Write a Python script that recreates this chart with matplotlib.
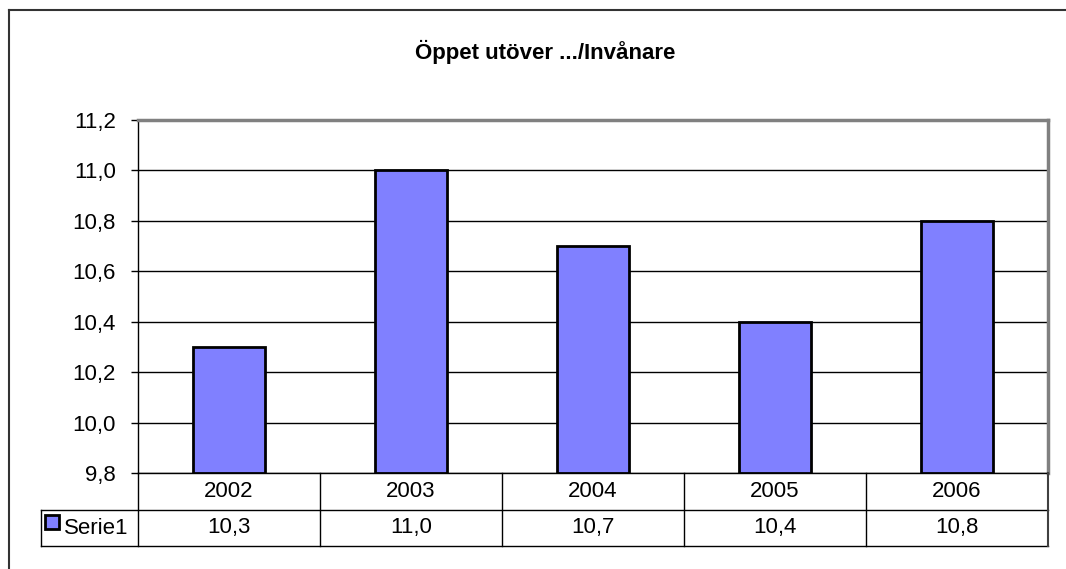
#!/usr/bin/env python3
import matplotlib
matplotlib.use('Agg')
import matplotlib.pyplot as plt
from matplotlib.lines import Line2D
from matplotlib.patches import Rectangle

# data
years = ['2002', '2003', '2004', '2005', '2006']
values = [10.3, 11.0, 10.7, 10.4, 10.8]
series_name = 'Serie1'
title = 'Öppet utöver .../Invånare'
yticks = [9.8, 10.0, 10.2, 10.4, 10.6, 10.8, 11.0, 11.2]

plt.rcParams['font.family'] = ['Liberation Sans', 'DejaVu Sans']
W, H = 1066, 569
FS = 16
fig = plt.figure(figsize=(W / 100, H / 100), dpi=100)

def fx(px):
    return px / W

def fy(py):
    return 1 - py / H

# plot area in pixels
L, R, T, B = 138, 1048, 120, 473
ax = fig.add_axes([fx(L), fy(B), fx(R - L), fy(T) - fy(B)])

bar_color = '#8080FF'
x = list(range(len(years)))
ax.bar(x, [v - yticks[0] for v in values], bottom=yticks[0], width=0.4,
       color=bar_color, edgecolor='black', linewidth=2, zorder=3)
ax.set_xlim(-0.5, len(years) - 0.5)
ax.set_ylim(yticks[0], yticks[-1])
ax.set_yticks(yticks)
ax.set_yticklabels([('%.1f' % t).replace('.', ',') for t in yticks], fontsize=FS)
ax.set_xticks([])
ax.yaxis.grid(True, color='black', linewidth=1, zorder=0)
ax.tick_params(axis='y', length=5, width=1, color='black', pad=11)
for s in ['top', 'right']:
    ax.spines[s].set_color('#808080')
    ax.spines[s].set_linewidth(2.5)
ax.spines['left'].set_linewidth(1)
ax.spines['bottom'].set_linewidth(1)

# title
fig.text(fx(545), fy(52), title, ha='center', va='center', fontsize=FS, fontweight='bold')

# data table
row1, row2, row3 = B, 510, 546
leg_left = 41
col_w = (R - L) / len(years)

def hline(y, x0, x1, c='black', lw=1):
    fig.add_artist(Line2D([fx(x0), fx(x1)], [fy(y), fy(y)], color=c, lw=lw))

def vline(xp, y0, y1, c='black', lw=1):
    fig.add_artist(Line2D([fx(xp), fx(xp)], [fy(y0), fy(y1)], color=c, lw=lw))

hline(row2, leg_left, R)
hline(row3, leg_left, R)
vline(leg_left, row2, row3)
vline(L, row1, row3)
for i in range(1, len(years)):
    vline(L + i * col_w, row1, row3)
vline(R, row1, row3, c='#404040', lw=1.5)

for i, (yr, v) in enumerate(zip(years, values)):
    cx = L + (i + 0.5) * col_w
    fig.text(fx(cx), fy((row1 + row2) / 2), yr, ha='center', va='center', fontsize=FS)
    fig.text(fx(cx), fy((row2 + row3) / 2), ('%.1f' % v).replace('.', ','),
             ha='center', va='center', fontsize=FS)

# legend key in table
fig.add_artist(Rectangle((fx(45), fy(529)), fx(14), fy(515) - fy(529),
                         facecolor=bar_color, edgecolor='black', lw=2))
fig.text(fx(64), fy((row2 + row3) / 2), series_name, ha='left', va='center', fontsize=FS)

# outer chart frame (cut off at right and bottom)
hline(10, 9, W, c='#333333', lw=1.5)
vline(9, 10, H, c='#333333', lw=1.5)

fig.savefig('out.png', dpi=100)
